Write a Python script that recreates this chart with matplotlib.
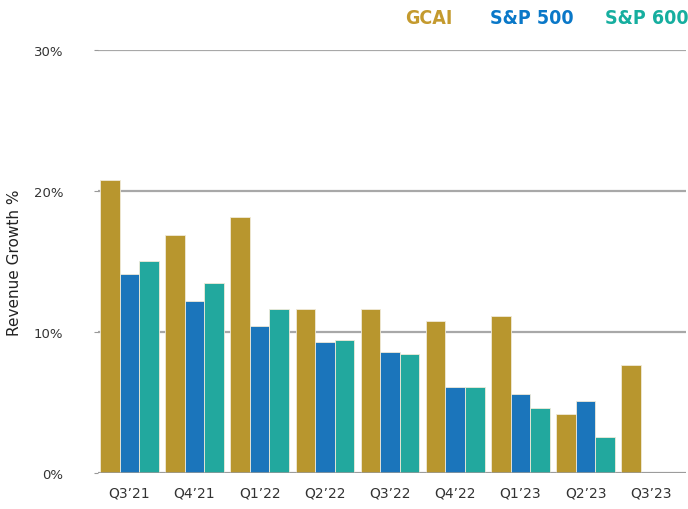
import matplotlib
matplotlib.use("Agg")
import matplotlib.pyplot as plt
import numpy as np

quarters = ["Q3\u201921", "Q4\u201921", "Q1\u201922", "Q2\u201922", "Q3\u201922",
            "Q4\u201922", "Q1\u201923", "Q2\u201923", "Q3\u201923"]
gcai = [20.8, 16.9, 18.15, 11.65, 11.65, 10.8, 11.15, 4.2, 7.65]
sp500 = [14.1, 12.2, 10.4, 9.3, 8.55, 6.1, 5.6, 5.1, np.nan]
sp600 = [15.0, 13.5, 11.65, 9.4, 8.4, 6.1, 4.6, 2.55, np.nan]
yticks = [0, 10, 20, 30]
ytick_labels = ["0%", "10%", "20%", "30%"]
series_names = ["GCAI", "S&P 500", "S&P 600"]

bar_colors = ["#B8962E", "#1B75BB", "#22A89E"]
text_colors = ["#C49A2E", "#0A78C8", "#16AE9F"]

plt.rcParams['font.family'] = ['DejaVu Sans']

fig = plt.figure(figsize=(6.88, 5.10), dpi=100)
ax = fig.add_axes([98/688, 1-474/510, (686-98)/688, (474-50.7)/510])

x = np.arange(len(quarters))
w = 0.3
for i, (vals, c) in enumerate(zip([gcai, sp500, sp600], bar_colors)):
    ax.bar(x + (i - 1) * w, vals, width=w, color=c, edgecolor="#f0ead8",
           linewidth=0.6, zorder=3)

ax.set_xlim(-0.48, 8.54)
ax.set_ylim(0, 30)
ax.set_yticks(yticks)
ax.set_yticklabels(ytick_labels, fontsize=9.5, color="#333333")
ax.set_xticks(x)
ax.set_xticklabels(quarters, fontsize=10, color="#333333")
ax.tick_params(axis="x", length=0, pad=9)
ax.tick_params(axis="y", length=3, color="#999999", pad=22)

for s in ["top", "right", "left", "bottom"]:
    ax.spines[s].set_visible(False)
ax.yaxis.grid(True, color="#A8A8A8", linewidth=1.6, zorder=0)
ax.set_axisbelow(True)
ax.axhline(0, color="#999999", linewidth=1.8, zorder=4)

ax.set_ylabel("Revenue Growth %", fontsize=11, color="#222222")
ax.yaxis.set_label_coords(-(98-22)/588, 0.5)

# legend as colored text
legend_x = [405, 490, 605]
for name, c, lx in zip(series_names, text_colors, legend_x):
    fig.text(lx/688, 1-18/510, name, color=c, fontsize=14, fontweight="bold",
             fontstretch="condensed", va="center", ha="left")

fig.savefig("out.png", dpi=100)
